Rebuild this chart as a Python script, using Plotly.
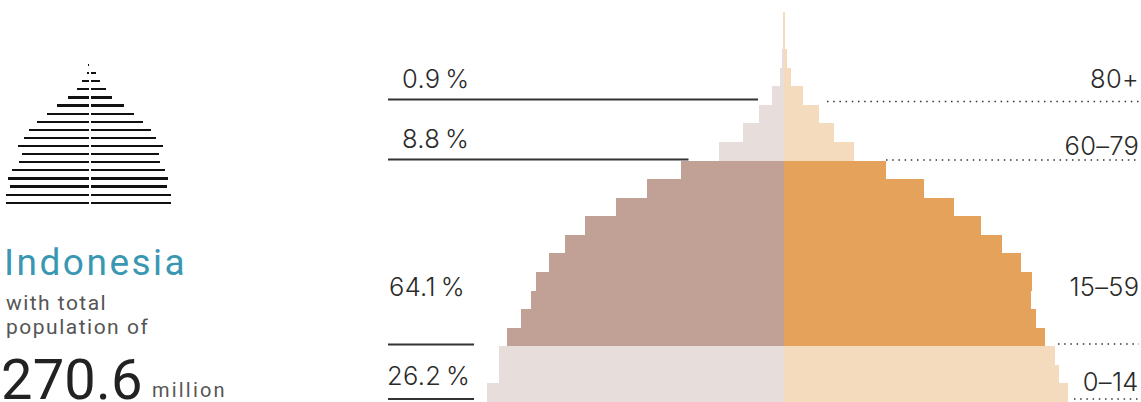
import plotly.graph_objects as go

# Population pyramid, millions, five-year rows from youngest to oldest
left_values = [12.25, 11.76, 11.76, 11.43, 10.85, 10.44, 10.23, 9.69, 9.03, 8.21, 6.93, 5.65, 4.24,
               2.67, 1.68, 1.02, 0.48, 0.15, 0.03, 0.0, 0.0]
right_values = [11.74, 11.37, 11.20, 10.79, 10.42, 10.21, 10.25, 9.80, 9.02, 8.15, 7.03, 5.79, 4.22,
                2.90, 2.08, 1.46, 0.80, 0.30, 0.14, 0.05, 0.04]
# Small inset pyramid, relative widths from bottom to top
inset_left = [83, 83, 79, 81, 77, 70, 67, 71, 65, 60, 52, 42, 32, 21, 12, 7, 2, 0.5]
inset_right = [80, 80, 76, 77, 74, 69, 68, 72, 65, 60, 52, 43, 33, 21, 15, 9, 5, 0]

dark_rows = range(3, 13)
COL_L_D, COL_R_D, COL_L_L, COL_R_L = "#C1A096", "#E5A25A", "#E7DDDA", "#F4DBBD"
rows = list(range(len(left_values)))
left_colors = [COL_L_D if r in dark_rows else COL_L_L for r in rows]
right_colors = [COL_R_D if r in dark_rows else COL_R_L for r in rows]

W, H = 1141, 402
CX = 783.7
SCALE = 0.0413
ROW = 18.57

fig = go.Figure()
fig.add_bar(y=rows, x=[-v for v in left_values], orientation="h", width=1.0,
            marker=dict(color=left_colors, line_width=0), hoverinfo="skip", showlegend=False)
fig.add_bar(y=rows, x=right_values, orientation="h", width=1.0,
            marker=dict(color=right_colors, line_width=0), hoverinfo="skip", showlegend=False)

inset_rows = list(range(len(inset_left)))
fig.add_bar(y=inset_rows, x=[-v for v in inset_left], base=-1.2, orientation="h", width=0.28,
            marker=dict(color="#111111", line_width=0), xaxis="x2", yaxis="y2",
            hoverinfo="skip", showlegend=False)
fig.add_bar(y=inset_rows, x=inset_right, base=1.2, orientation="h", width=0.28,
            marker=dict(color="#111111", line_width=0), xaxis="x2", yaxis="y2",
            hoverinfo="skip", showlegend=False)


def px(x):
    return x / W


def py(y):
    return 1 - y / H


solid = [(388, 758, 99.5), (388, 688.5, 159.5), (388, 474, 344.5), (388, 474, 399)]
dotted = [(827, 1139, 101.5), (886, 1139, 160), (1058, 1139, 344), (1074, 1139, 399)]
shapes = []
for x0, x1, y in solid:
    shapes.append(dict(type="line", xref="paper", yref="paper", x0=px(x0), x1=px(x1), y0=py(y), y1=py(y),
                       line=dict(color="#333333", width=2), layer="above"))
for x0, x1, y in dotted:
    shapes.append(dict(type="line", xref="paper", yref="paper", x0=px(x0), x1=px(x1), y0=py(y), y1=py(y),
                       line=dict(color="#333333", width=1.5, dash="1.5px,4.7px"), layer="above"))

FONT = "Inter"
DARK = "#2A2A2A"


def label(x, y, text, size, color=DARK, anchor="left", family=FONT, weight=300):
    return dict(xref="paper", yref="paper", x=px(x), y=py(y), text=text, showarrow=False,
                xanchor=anchor, yanchor="middle", align=anchor,
                borderpad=0, font=dict(family=family, size=size, color=color, weight=weight))


annotations = [
    label(401, 79, "0.9\u2009%", 25.5),
    label(401, 138, "8.8\u2009%", 25.5),
    label(388, 286, "64.1\u2009%", 25.5),
    label(386, 375, "26.2\u2009%", 25.5),
    label(1140, 79, "80+", 25.5, anchor="right"),
    label(1140, 145, "60\u201379", 25.5, anchor="right"),
    label(1140, 286, "15\u201359", 25.5, anchor="right"),
    label(1140, 381, "0\u201314", 25.5, anchor="right"),
    label(3, 262, "Indonesia", 37, color="#3A97B2", family="Roboto", weight=400),
    label(5, 303, "with total", 21, color="#555555", family="Roboto", weight=400),
    label(5, 327, "population of", 21, color="#555555", family="Roboto", weight=400),
    label(0, 380, "270.6", 56, color="#222222", family="Roboto", weight=400),
    label(151, 390, "million", 20, color="#555555", family="Roboto", weight=400),
]

fig.update_layout(
    width=W, height=H, autosize=False, margin=dict(l=0, r=0, t=0, b=0, pad=0),
    paper_bgcolor="white", plot_bgcolor="white", barmode="overlay", bargap=0,
    shapes=shapes, annotations=annotations,
    xaxis=dict(domain=[0, 1], range=[-CX * SCALE, (W - CX) * SCALE], visible=False, fixedrange=True),
    yaxis=dict(domain=[0, 1], range=[-0.5, H / ROW - 0.5], visible=False, fixedrange=True),
    xaxis2=dict(domain=[0, 190 / W], range=[-90.2, 99.8], anchor="y2", visible=False, fixedrange=True),
    yaxis2=dict(domain=[py(207.05), py(61.25)], range=[-0.5, 17.5], anchor="x2", visible=False, fixedrange=True),
)

tracking_js = """
document.body.style.margin='0';document.body.style.overflow='hidden';
var sp={'Indonesia':2.5,'with total':1.45,'population of':1.5,'270.6':0.2,'million':2.2};
document.querySelectorAll('.annotation-text').forEach(function(t){
  var s=t.textContent; t.style.letterSpacing=(s in sp?sp[s]:0.3)+'px';
});
"""
fig.write_html("out.html", config={"displayModeBar": False}, post_script=tracking_js)
